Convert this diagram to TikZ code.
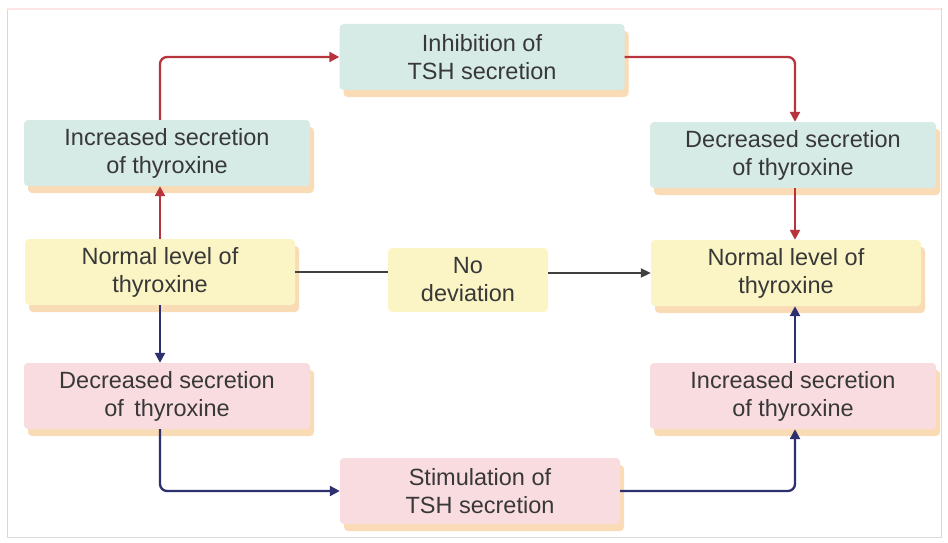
\documentclass[tikz,border=0pt]{standalone}
\usepackage{fontspec}
\setmainfont{Liberation Sans}
\usetikzlibrary{arrows.meta,shadows}
\definecolor{teal1}{HTML}{D6EBE6}
\definecolor{yel1}{HTML}{FBF4C4}
\definecolor{pink1}{HTML}{F9DCE0}
\definecolor{shad}{HTML}{F8D6AA}
\definecolor{redline}{HTML}{B8343C}
\definecolor{navyline}{HTML}{2E2F6E}
\definecolor{txt}{HTML}{383838}
\begin{document}
\begin{tikzpicture}[x=1pt,y=-1pt,
  plainbox/.style={rounded corners=4pt, minimum height=66pt, align=center, text=txt,
    font=\fontsize{23.5}{28}\selectfont},
  box/.style={plainbox,
    drop shadow={shadow xshift=4pt, shadow yshift=-7pt, fill=shad, opacity=0.85}},
  tealbox/.style={box, fill=teal1, minimum width=286pt},
  yelbox/.style={box, fill=yel1, minimum width=270pt},
  pinkbox/.style={box, fill=pink1, minimum width=286pt},
  redarr/.style={draw=redline, line width=2.3pt, rounded corners=7pt, -{Triangle[length=10pt,width=10pt]}},
  navyarr/.style={draw=navyline, line width=2.3pt, rounded corners=7pt, -{Triangle[length=10pt,width=10pt]}},
  grayline/.style={draw=black!75, line width=2pt}]
\useasboundingbox (0,0) rectangle (948,543);
\fill[white] (0,0) rectangle (948,543);
\draw[black!15, line width=1pt] (7,9) rectangle (941,537);
\draw[pink!40, line width=1.2pt] (7,9) -- (941,9);

\node[tealbox, minimum width=285pt] (inh) at (482,57) {Inhibition of\\TSH secretion};
\node[tealbox] (incL) at (167,153) {Increased secretion\\of thyroxine};
\node[yelbox] (normL) at (160,272) {Normal level of\\thyroxine};
\node[pinkbox] (decL) at (167,396) {Decreased secretion\\of\, thyroxine};
\node[pinkbox, minimum width=280pt] (stim) at (480,491) {Stimulation of\\TSH secretion};
\node[tealbox] (decR) at (793,155) {Decreased secretion\\of thyroxine};
\node[yelbox] (normR) at (786,273) {Normal level of\\thyroxine};
\node[pinkbox] (incR) at (793,396) {Increased secretion\\of thyroxine};
\node[plainbox, fill=yel1, minimum width=160pt, minimum height=64pt] (nodev) at (468,280) {No\\deviation};

\draw[redarr] (incL.north -| 160,0) |- (inh.west);
\draw[redarr] (inh.east) -| (decR.north -| 795,0);
\draw[redarr] (normL.north) -- (normL.north |- incL.south);
\draw[redarr] (decR.south -| 795,0) -- (normR.north -| 795,0);
\draw[navyarr] (normL.south) -- (normL.south |- decL.north);
\draw[navyarr] (decL.south -| 160,0) |- (stim.west);
\draw[navyarr] (stim.east) -| (incR.south -| 795,0);
\draw[navyarr] (incR.north -| 795,0) -- (normR.south -| 795,0);
\draw[grayline] (normL.east) -- (nodev.west |- normL.east);
\draw[grayline, -{Triangle[length=10pt,width=9pt]}] (nodev.east |- normR.west) -- (normR.west);
\end{tikzpicture}
\end{document}
